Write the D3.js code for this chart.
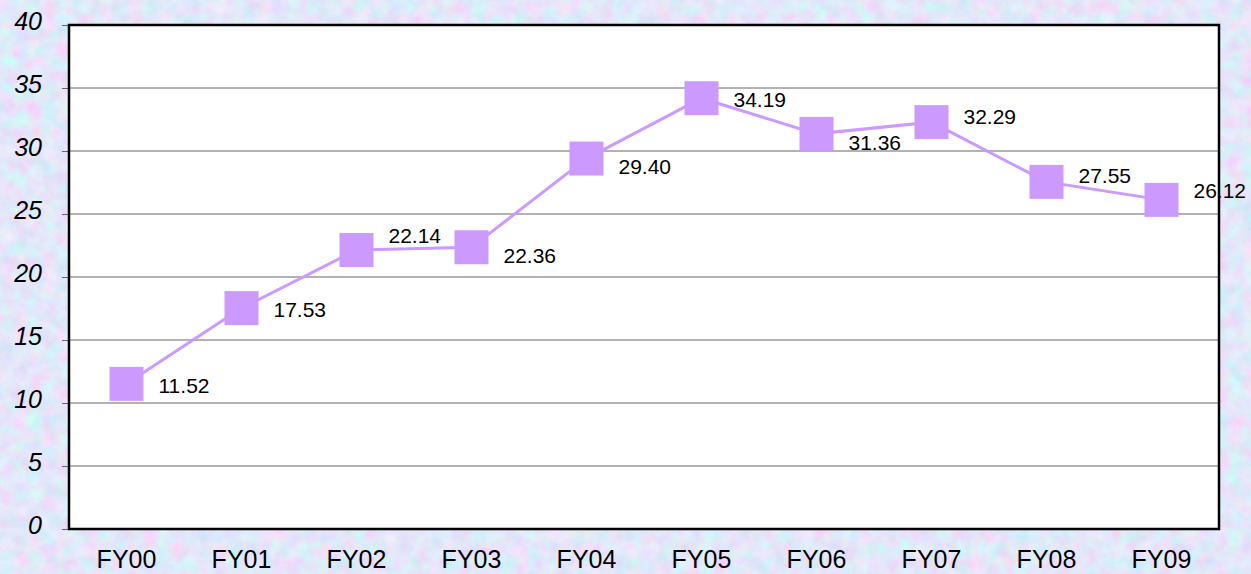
<!DOCTYPE html>
<html>
<head>
<script src="https://d3js.org/d3.v7.min.js"></script>
<style>
  body { margin: 0; }
  svg { display: block; font-family: "Liberation Sans", Arial, sans-serif; }
</style>
</head>
<body>
<script>
var categories = ["FY00", "FY01", "FY02", "FY03", "FY04", "FY05", "FY06", "FY07", "FY08", "FY09"];
var values = [11.52, 17.53, 22.14, 22.36, 29.40, 34.19, 31.36, 32.29, 27.55, 26.12];
var yTicks = [0, 5, 10, 15, 20, 25, 30, 35, 40];

// small vertical nudges for value labels, like the original placement
var labelNudge = [2, 2, -14, 8, 8, 1, 9, -5, -6, -9];

var w = 1251, h = 574;
var plotLeft = 69, plotRight = 1219, plotTop = 25, plotBottom = 529;

var svg = d3.select("body").append("svg")
    .attr("width", w)
    .attr("height", h);

// textured background
var defs = svg.append("defs");
var f = defs.append("filter").attr("id", "tex")
    .attr("x", 0).attr("y", 0).attr("width", "100%").attr("height", "100%");
f.append("feTurbulence").attr("type", "fractalNoise")
    .attr("baseFrequency", "0.07").attr("numOctaves", 4).attr("seed", 4).attr("result", "n");
f.append("feColorMatrix").attr("type", "matrix")
    .attr("values", "0.55 0 0 0 0.49  -0.3 0.3 0 0 0.80  0 0 0.2 0 0.85  0 0 0 0 1");

svg.append("rect").attr("width", w).attr("height", h).attr("fill", "#c6d8f2");
svg.append("rect").attr("width", w).attr("height", h).attr("filter", "url(#tex)");

var x = d3.scalePoint().domain(categories).range([plotLeft, plotRight]).padding(0.5);
var y = d3.scaleLinear().domain([0, 40]).range([plotBottom, plotTop]);

svg.append("rect")
    .attr("x", plotLeft).attr("y", plotTop)
    .attr("width", plotRight - plotLeft).attr("height", plotBottom - plotTop)
    .attr("fill", "#fff");

// gridlines
svg.selectAll(".grid")
    .data(yTicks.filter(function (d) { return d > 0 && d < 40; }))
    .enter().append("line")
    .attr("x1", plotLeft).attr("x2", plotRight)
    .attr("y1", function (d) { return y(d); })
    .attr("y2", function (d) { return y(d); })
    .attr("stroke", "#666").attr("stroke-width", 1);

// y axis
var yAxis = svg.append("g")
    .attr("transform", "translate(" + plotLeft + ",0)")
    .call(d3.axisLeft(y).tickValues(yTicks).tickSize(7).tickPadding(20));
yAxis.select(".domain").remove();
yAxis.selectAll(".tick line").attr("stroke", "#666");
yAxis.selectAll(".tick text")
    .attr("font-size", 25)
    .attr("font-style", "italic")
    .attr("font-family", "Liberation Sans, Arial, sans-serif")
    .attr("fill", "#000")
    .attr("dy", "0.18em");

// x labels
svg.selectAll(".xl")
    .data(categories)
    .enter().append("text")
    .attr("x", function (d) { return x(d); })
    .attr("y", 568)
    .attr("text-anchor", "middle")
    .attr("font-size", 25)
    .attr("fill", "#000")
    .text(function (d) { return d; });

// frame
svg.append("rect")
    .attr("x", plotLeft).attr("y", plotTop)
    .attr("width", plotRight - plotLeft).attr("height", plotBottom - plotTop)
    .attr("fill", "none").attr("stroke", "#000").attr("stroke-width", 2.5);

var line = d3.line()
    .x(function (d, i) { return x(categories[i]); })
    .y(function (d) { return y(d); });

svg.append("path")
    .datum(values)
    .attr("d", line)
    .attr("fill", "none")
    .attr("stroke", "#cc99ff")
    .attr("stroke-width", 3);

var ms = 34;
svg.selectAll(".marker")
    .data(values)
    .enter().append("rect")
    .attr("x", function (d, i) { return x(categories[i]) - ms / 2; })
    .attr("y", function (d) { return y(d) - ms / 2; })
    .attr("width", ms).attr("height", ms)
    .attr("fill", "#cc99ff");

svg.selectAll(".lab")
    .data(values)
    .enter().append("text")
    .attr("x", function (d, i) { return x(categories[i]) + 32; })
    .attr("y", function (d, i) { return y(d) + labelNudge[i]; })
    .attr("dy", "0.35em")
    .attr("font-size", 21)
    .attr("fill", "#000")
    .text(function (d) { return d.toFixed(2); });
</script>
</body>
</html>
